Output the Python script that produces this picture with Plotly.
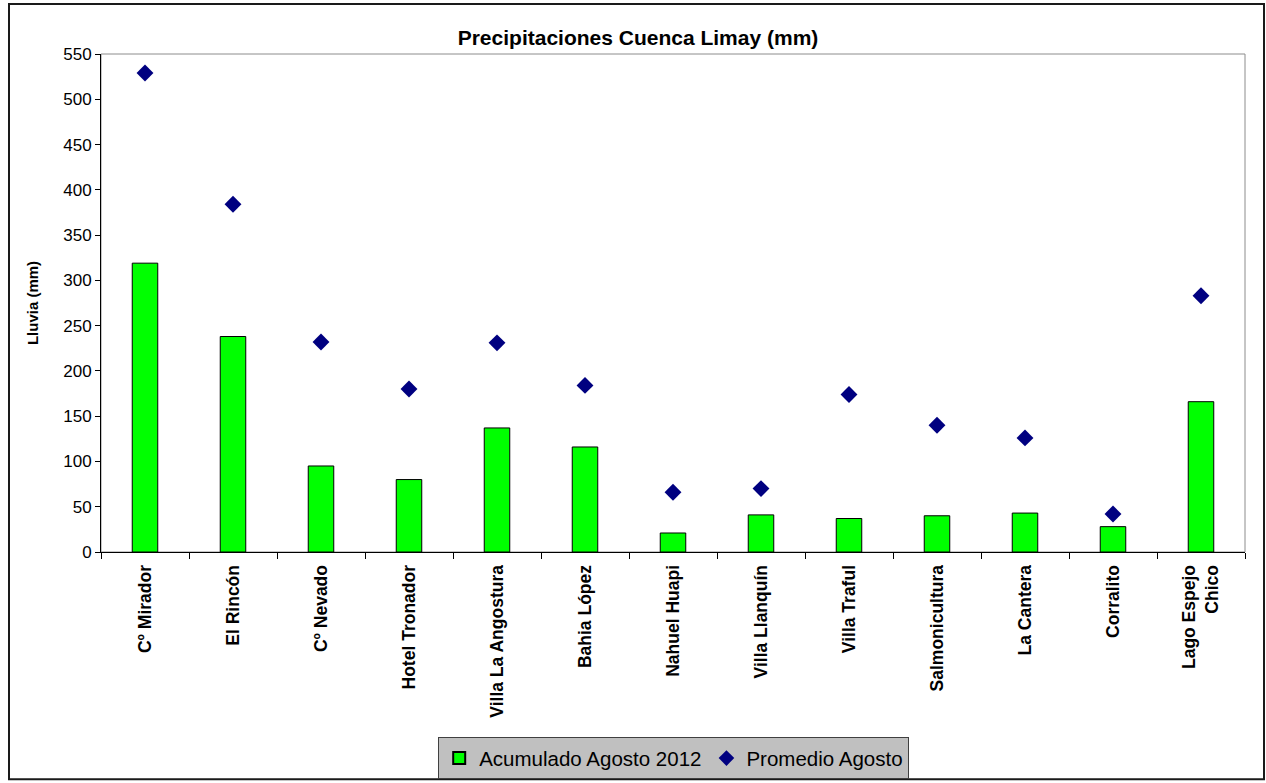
import plotly.graph_objects as go

# Estaciones de la cuenca del río Limay
estaciones = [
    "Cº Mirador", "El Rincón", "Cº Nevado", "Hotel Tronador",
    "Villa La Angostura", "Bahia López", "Nahuel Huapi", "Villa Llanquín",
    "Villa Traful", "Salmonicultura", "La Cantera", "Corralito",
    "Lago Espejo<br>Chico",
]
# Precipitación acumulada en agosto 2012 (mm)
acumulado_ago_2012 = [319, 238, 95, 80, 137, 116, 21, 41, 37, 40, 43, 28, 166]
# Promedio histórico de agosto (mm)
promedio_agosto = [529, 384, 232, 180, 231, 184, 66, 70, 174, 140, 126, 42, 283]

y_ticks = list(range(0, 551, 50))

FONT = "Arial, Liberation Sans, sans-serif"

W, H = 1266, 783
L, R, T, B = 101, 21, 54, 230.5
pw, ph = W - L - R, H - T - B


def px_x(x):
    return (x - L) / pw


def px_y(y):
    return (H - B - y) / ph


fig = go.Figure()
fig.add_trace(go.Bar(
    x=estaciones, y=acumulado_ago_2012, name="Acumulado Agosto 2012",
    width=0.29, marker=dict(color="#00FF00", line=dict(color="#000000", width=1)),
))
fig.add_trace(go.Scatter(
    x=estaciones, y=promedio_agosto, name="Promedio Agosto", mode="markers",
    marker=dict(symbol="diamond", size=13, color="#000080",
                line=dict(width=0)),
))

shapes = [
    # marco exterior del gráfico
    dict(type="rect", xref="paper", yref="paper",
         x0=px_x(9), x1=px_x(1264), y0=px_y(780), y1=px_y(4),
         line=dict(color="#1a1a1a", width=2), layer="below"),
    # borde gris del área de trazado
    dict(type="rect", xref="paper", yref="paper", x0=0, x1=1, y0=0, y1=1,
         line=dict(color="#8c8c8c", width=1), layer="below"),
]

fig.update_layout(
    width=W, height=H,
    margin=dict(l=L, r=R, t=T, b=B, pad=0, autoexpand=False),
    paper_bgcolor="white", plot_bgcolor="white",
    font=dict(family=FONT, color="#000000"),
    title=dict(text="<b>Precipitaciones Cuenca Limay (mm)</b>",
               x=638 / W, xanchor="center", xref="container",
               y=1 - 38 / H, yanchor="middle", yref="container",
               font=dict(size=21, family=FONT, color="#000000")),
    shapes=shapes,
    showlegend=True,
    legend=dict(orientation="h", x=px_x(673.7), xanchor="center",
                y=px_y(780), yanchor="bottom",
                bgcolor="#C0C0C0", bordercolor="#404040", borderwidth=1,
                font=dict(size=20.5, family=FONT, color="#000000"),
                itemsizing="constant", tracegroupgap=0),
    bargap=0.71,
)

fig.update_xaxes(
    type="category", range=[-0.5, len(estaciones) - 0.5], autorange=False,
    tickangle=-90, tickson="boundaries", automargin=False,
    ticks="outside", ticklen=6, tickcolor="#000000", ticklabelstandoff=5,
    showline=True, linecolor="#000000", linewidth=1,
    showgrid=False, zeroline=False,
    tickfont=dict(size=17.5, family=FONT, color="#000000", weight="bold"),
)
fig.update_yaxes(
    range=[0, 550], autorange=False, automargin=False,
    tickvals=y_ticks, ticktext=[str(v) for v in y_ticks],
    ticks="outside", ticklen=5, tickcolor="#000000",
    showline=True, linecolor="#000000", linewidth=1,
    showgrid=False, zeroline=False,
    tickfont=dict(size=17, family=FONT, color="#000000"),
    title=dict(text="<b>Lluvia (mm)</b>", standoff=20,
               font=dict(size=15, family=FONT, color="#000000")),
)

fig.write_html("out.html")
